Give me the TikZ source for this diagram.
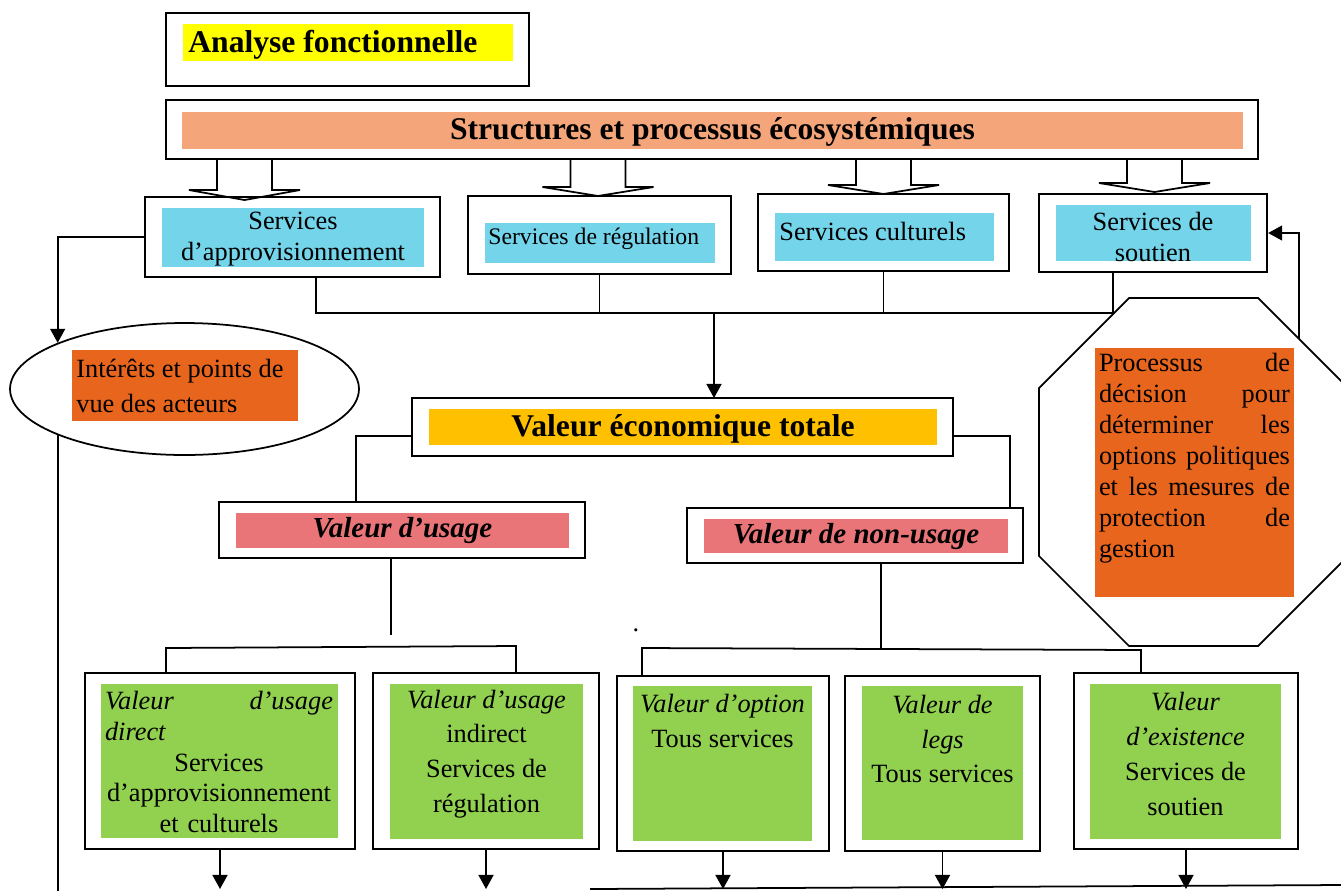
\documentclass[tikz,border=0pt]{standalone}
\usepackage{fontspec}
\setmainfont{Liberation Serif}
\usetikzlibrary{arrows.meta,fit,shapes.geometric}
\setlength\parindent{0pt}

\definecolor{jaune}{HTML}{FFFF00}
\definecolor{saumon}{HTML}{F4A67A}
\definecolor{bleu}{HTML}{74D4EA}
\definecolor{orangef}{HTML}{E8651E}
\definecolor{ocre}{HTML}{FFC000}
\definecolor{rose}{HTML}{EA7579}
\definecolor{vert}{HTML}{92D050}

\tikzset{
	cadre/.style={draw, line width=1.3pt, inner sep=0pt},
	fond/.style={inner sep=0pt},
	lien/.style={line width=1pt},
	fleche/.style={lien, -{Triangle[length=8pt,width=8.5pt]}},
	txt/.style={inner sep=0pt, font=\fontsize{15}{17.6}\selectfont},
	txtb/.style={inner sep=0pt, font=\fontsize{15}{19.8}\selectfont},
	titreb/.style={inner sep=0pt, font=\fontsize{18}{21}\selectfont\bfseries},
	valeur/.style={inner sep=0pt, font=\fontsize{16.5}{19}\selectfont\bfseries\itshape},
}

% fleche creuse : x du centre, y des ailes, y de la pointe
\newcommand\blocarrow[3]{%
	\draw[lien, fill=white] (#1-27.5,159) -- (#1-27.5,#2) -- (#1-55.5,#2) -- (#1,#3)
		-- (#1+55.5,#2) -- (#1+27.5,#2) -- (#1+27.5,159);
}

\begin{document}
\begin{tikzpicture}[x=0.02cm, y=-0.02cm]
	\useasboundingbox (0,0) rectangle (1341,890);
	\clip (0,0) rectangle (1341,890);
	
	% titres
	\node[cadre, fit={(166,13) (529,86)}] (titre) {};
	\node[fond, fill=jaune, fit={(183,24) (513,61)}] (titreF) {};
	\node[titreb, anchor=west] (titreT) at (188,45) {Analyse fonctionnelle};
	
	\blocarrow{244.5}{190}{200}
	\blocarrow{598}{187}{196}
	\blocarrow{883.5}{185}{194}
	\blocarrow{1154.5}{183}{192}
	
	\node[cadre, fill=white, fit={(166,100) (1258,159)}] (struct) {};
	\node[fond, fill=saumon, fit={(182,112) (1243,149)}] (structF) {};
	\node[titreb] (structT) at (712.5,132) {Structures et processus écosystémiques};
	
	% services
	\node[cadre, fit={(145,197) (440,277)}] (sappro) {};
	\node[fond, fill=bleu, fit={(162,208) (424,267)}] (sapproF) {};
	\node[txt, align=center] (sapproT) at (293,239) {Services\\d'approvisionnement};
	
	\node[cadre, fit={(468,196) (731,274)}] (sregul) {};
	\node[fond, fill=bleu, fit={(485,223) (715,263)}] (sregulF) {};
	\node[inner sep=0pt, anchor=west, font=\fontsize{13.5}{16}\selectfont] (sregulT) at (488,239) {Services de régulation};
	
	\node[cadre, fit={(758,194) (1009,271)}] (scult) {};
	\node[fond, fill=bleu, fit={(775,213) (994,261)}] (scultF) {};
	\node[txt, anchor=west] (scultT) at (779,231) {Services culturels};
	
	\node[cadre, fit={(1039,194) (1267,272)}] (ssout) {};
	\node[fond, fill=bleu, fit={(1056,205) (1251,261)}] (ssoutF) {};
	\node[txt, align=center] (ssoutT) at (1153,237) {Services de\\soutien};
	
	\coordinate (busG) at (316,313);
	\coordinate (busM) at (714,313);
	\coordinate (busD) at (1113,313);
	\draw[lien] (sappro.south -| busG) -- (busG) -- (busD) -- (ssout.south -| busD);
	\draw[lien] (sregul.south) -- (sregul.south |- busG);
	\draw[lien] (scult.south) -- (scult.south |- busG);
	
	% acteurs
	\node[draw, lien, ellipse, minimum width=6.98cm, minimum height=2.64cm, inner sep=0pt] (acteurs) at (184.5,389) {};
	\node[fond, fill=orangef, fit={(72,350) (298,421)}] (acteursF) {};
	\node[txtb, anchor=west, align=left] (acteursT) at (76,386) {Intérêts et points de\\vue des acteurs};
	\draw[fleche] (sappro.west) -| (acteurs.160);
	\coordinate (bas) at (0,892);
	\draw[lien] (acteurs.200) -- (acteurs.200 |- bas);
	
	% decision
	\draw[lien] (1129,298) -- (1258,298) -- (1348,388) -- (1348,556) -- (1258,646)
		-- (1129,646) -- (1039,556) -- (1039,388) -- cycle;
	\node[fond, fill=orangef, fit={(1095,348) (1294,597)}] (decisionF) {};
	\node[txt, text width=3.82cm, align=left] (decisionT) at (1194.5,458)
		{Processus\hfill de\\décision\hfill pour\\déterminer\hfill les\\options\hfill politiques\\et\hfill les\hfill mesures\hfill de\\protection\hfill de\\gestion};
	\coordinate (octa) at (1299,339);
	\draw[fleche] (octa) |- (ssout.east);
	
	% valeur economique totale
	\draw[fleche] (busM) -- (busM |- 0,398);
	\node[cadre, fit={(412,398) (953,456)}] (vet) {};
	\node[fond, fill=ocre, fit={(429,409) (937,445)}] (vetF) {};
	\node[titreb] (vetT) at (683,429) {Valeur économique totale};
	
	\node[cadre, fit={(219,502) (585,558)}] (usage) {};
	\node[fond, fill=rose, fit={(236,513) (569,548)}] (usageF) {};
	\node[valeur] (usageT) at (402.5,531) {Valeur d'usage};
	\node[cadre, fit={(687,508) (1023,563)}] (nonusage) {};
	\node[fond, fill=rose, fit={(704,519) (1008,553)}] (nonusageF) {};
	\node[valeur] (nonusageT) at (856,537) {Valeur de non-usage};
	
	\coordinate (vg) at (356,436);
	\coordinate (vd) at (1010,436);
	\draw[lien] (vet.west |- vg) -- (vg) -- (vg |- usage.north);
	\draw[lien] (vet.east |- vd) -- (vd) -- (vd |- nonusage.north);
	
	% valeurs detaillees
	\node[cadre, fit={(85,673) (355,849)}] (b1) {};
	\node[fond, fill=vert, fit={(101,684) (338,838)}] (b1F) {};
	\node[txt, text width=4.56cm, align=center] (b1T) at (219,762)
		{\textit{Valeur\hfill d'usage}\\\textit{direct}\hfill\null\\Services\\d'approvisionnement\\et culturels};
	
	\node[cadre, fit={(373,673) (599,849)}] (b2) {};
	\node[fond, fill=vert, fit={(390,684) (583,839)}] (b2F) {};
	\node[txtb, align=center] (b2T) at (486.5,754) {\textit{Valeur d'usage}\\indirect\\Services de\\régulation};
	
	\node[cadre, fit={(617,676) (829,851)}] (b3) {};
	\node[fond, fill=vert, fit={(633,686) (812,841)}] (b3F) {};
	\node[txtb, align=center] (b3T) at (722.5,721) {\textit{Valeur d'option}\\Tous services};
	
	\node[cadre, fit={(845,676) (1040,851)}] (b4) {};
	\node[fond, fill=vert, fit={(862,686) (1023,840)}] (b4F) {};
	\node[txtb, align=center] (b4T) at (942.5,739) {\textit{Valeur de}\\\textit{legs}\\Tous services};
	
	\node[cadre, fit={(1074,673) (1298,849)}] (b5) {};
	\node[fond, fill=vert, fit={(1090,684) (1281,839)}] (b5F) {};
	\node[txtb, align=center] (b5T) at (1185.5,754) {\textit{Valeur}\\\textit{d'existence}\\Services de\\soutien};
	
	\coordinate (ug) at (391,635);
	\coordinate (ua) at (166,648);
	\coordinate (ub) at (516,646);
	\draw[lien] (usage.south -| ug) -- (ug);
	\draw[lien] (ua |- b1.north) -- (ua) -- (ub) -- (ub |- b2.north);
	\node[txt] (point) at (636,630) {.};
	
	\coordinate (nm) at (881,649);
	\coordinate (na) at (642,648);
	\coordinate (nb) at (1141,650);
	\draw[lien] (nonusage.south -| nm) -- (nm);
	\draw[lien] (na |- b3.north) -- (na) -- (nb) -- (nb |- b5.north);
	
	% ligne du bas
	\coordinate (basG) at (590,889);
	\coordinate (basD) at (1341,885);
	\draw[lien] (basG) -- (basD);
	\foreach \b in {b1,b2,b3,b4,b5}
		\draw[fleche] (\b.south) -- (\b.south |- basG);
\end{tikzpicture}
\end{document}
